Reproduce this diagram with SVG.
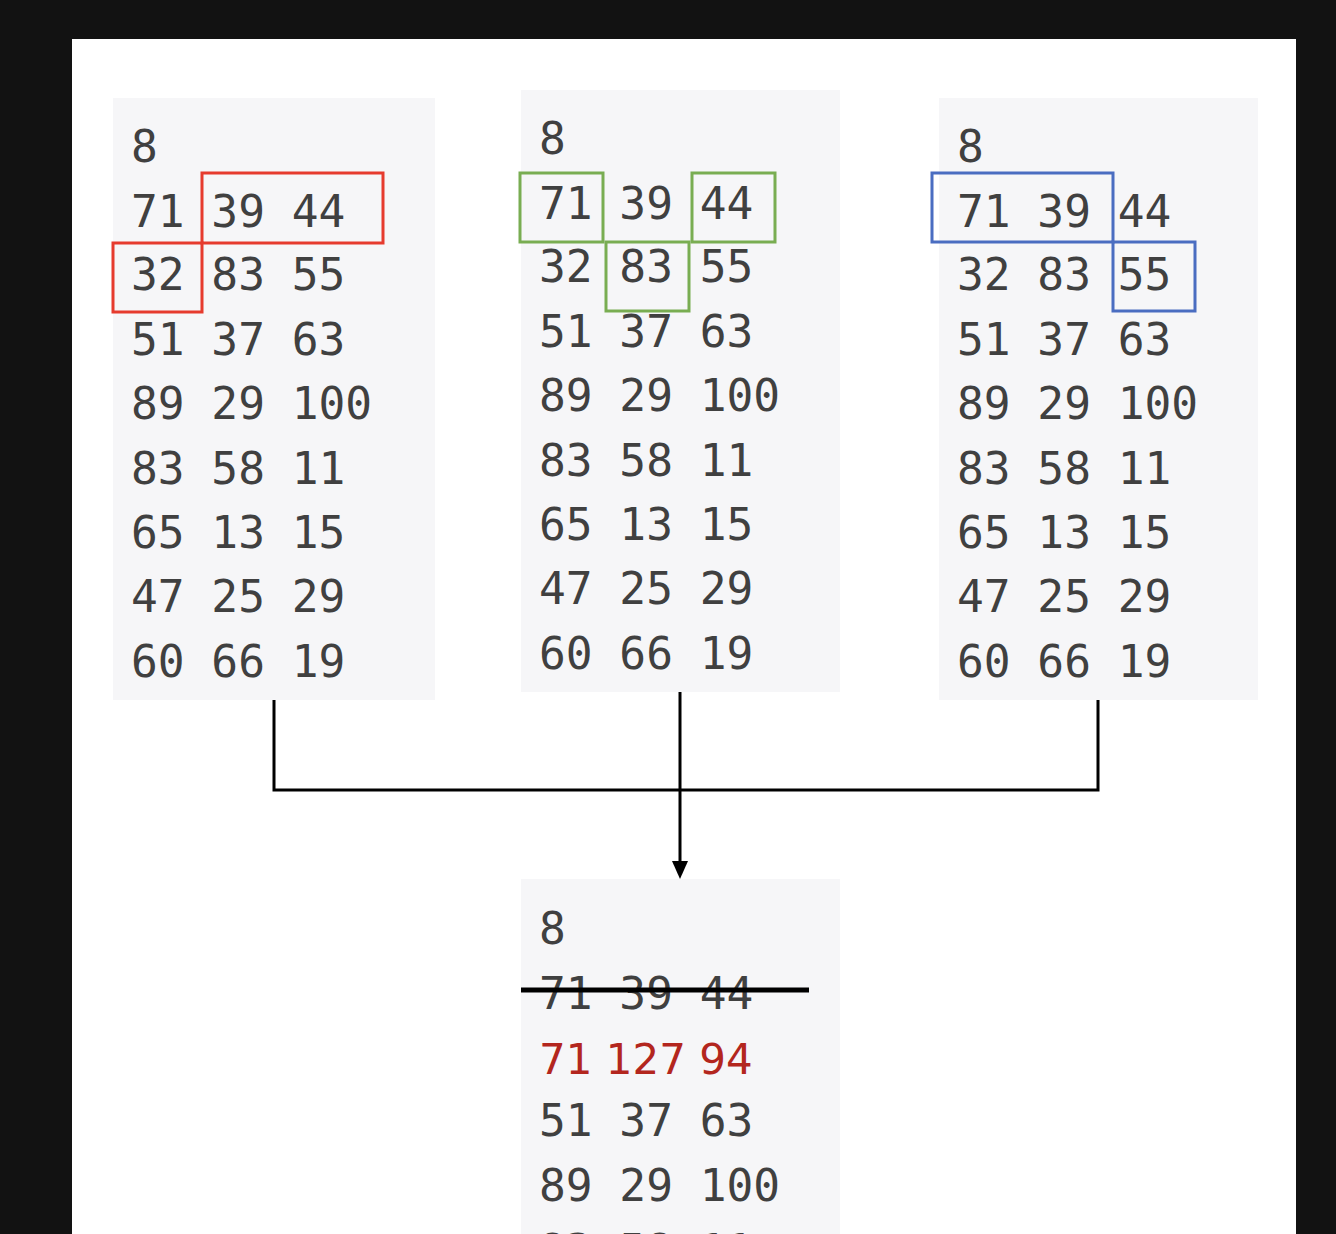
<svg xmlns="http://www.w3.org/2000/svg" width="1336" height="1234" viewBox="0 0 1336 1234">
<defs>
<style>
.panel{fill:#f6f6f8}
.t{font-family:"DejaVu Sans Mono",monospace;font-size:44.5px;fill:#404040}
.red{font-family:"DejaVu Sans",sans-serif;font-size:42px;fill:#b3261e}
.conn{fill:none;stroke:#000;stroke-width:3}
.r{fill:none;stroke:#e63b2e;stroke-width:3}
.g{fill:none;stroke:#79ad52;stroke-width:3}
.b{fill:none;stroke:#4a6dc1;stroke-width:3}
</style>
<marker id="arr" markerWidth="18" markerHeight="16" refX="1" refY="8" orient="auto" markerUnits="userSpaceOnUse" viewBox="0 0 18 16">
<path d="M0,0 L18,8 L0,16 Z" fill="#000"/>
</marker>
</defs>
<rect width="1336" height="1234" fill="#121212"/>
<rect x="72" y="39" width="1224" height="1195" fill="#fff"/>

<g id="panel-left">
<rect class="panel" x="113" y="98" width="322" height="602"/>
<g class="t">
<text x="131" y="162">8</text>
<text x="131" y="227">71 39 44</text>
<text x="131" y="290">32 83 55</text>
<text x="131" y="355">51 37 63</text>
<text x="131" y="419">89 29 100</text>
<text x="131" y="484">83 58 11</text>
<text x="131" y="548">65 13 15</text>
<text x="131" y="612">47 25 29</text>
<text x="131" y="677">60 66 19</text>
</g>
<rect class="r" x="202" y="173" width="181" height="70"/>
<rect class="r" x="113" y="243" width="89" height="69"/>
</g>

<g id="panel-middle">
<rect class="panel" x="521" y="90" width="319" height="602"/>
<g class="t">
<text x="539" y="154">8</text>
<text x="539" y="219">71 39 44</text>
<text x="539" y="282">32 83 55</text>
<text x="539" y="347">51 37 63</text>
<text x="539" y="411">89 29 100</text>
<text x="539" y="476">83 58 11</text>
<text x="539" y="540">65 13 15</text>
<text x="539" y="604">47 25 29</text>
<text x="539" y="669">60 66 19</text>
</g>
<rect class="g" x="520" y="173" width="83" height="69"/>
<rect class="g" x="692" y="173" width="83" height="69"/>
<rect class="g" x="606" y="242" width="83" height="69"/>
</g>

<g id="panel-right">
<rect class="panel" x="939" y="98" width="319" height="602"/>
<g class="t">
<text x="957" y="162">8</text>
<text x="957" y="227">71 39 44</text>
<text x="957" y="290">32 83 55</text>
<text x="957" y="355">51 37 63</text>
<text x="957" y="419">89 29 100</text>
<text x="957" y="484">83 58 11</text>
<text x="957" y="548">65 13 15</text>
<text x="957" y="612">47 25 29</text>
<text x="957" y="677">60 66 19</text>
</g>
<rect class="b" x="932" y="173" width="181" height="69"/>
<rect class="b" x="1113" y="242" width="82" height="69"/>
</g>

<g id="panel-result">
<rect class="panel" x="521" y="879" width="319" height="360"/>
<g class="t">
<text x="539" y="944">8</text>
<text x="539" y="1009">71 39 44</text>
<text x="539" y="1136">51 37 63</text>
<text x="539" y="1201">89 29 100</text>
<text x="539" y="1266">83 58 11</text>
</g>
<text class="red" x="539" y="1074">71 127 94</text>
<line x1="521" y1="990" x2="809" y2="990" stroke="#000" stroke-width="5"/>
</g>

<g id="connectors">
<path class="conn" d="M274,700 V790 H1098 V700"/>
<line class="conn" x1="680" y1="692" x2="680" y2="862" marker-end="url(#arr)"/>
</g>
</svg>
